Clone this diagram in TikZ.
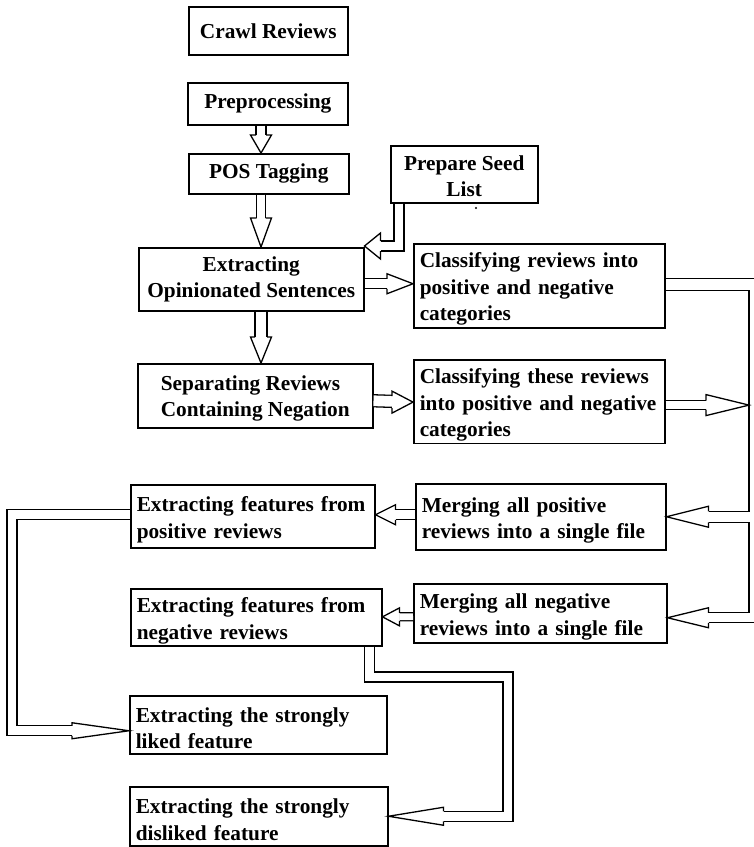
\documentclass[tikz,border=0pt]{standalone}
\usepackage{fontspec}
\setmainfont{Liberation Serif}
\usetikzlibrary{calc}

% hollow block-arrow head: tip, direction (deg), length, half width, half shaft gap
\newcommand\ahead[5]{%
  \begin{scope}[shift={#1}, rotate=#2]
    \fill[white] (0,0) -- (-#3,#4) -- (-#3,-#4) -- cycle;
    \draw[conn] (-#3,#5) -- (-#3,#4) -- (0,0) -- (-#3,-#4) -- (-#3,-#5);
  \end{scope}}

\begin{document}
\begin{tikzpicture}[x=1pt, y=-1pt,
  conn/.style={draw=black, line width=1.3pt, line join=miter},
  dbl/.style={draw=black, line width=1.3pt, double=white, double distance=#1, line join=miter},
  box/.style={draw=black, line width=1.5pt, anchor=north west, inner xsep=6pt, inner ysep=2pt,
    font=\bfseries\fontsize{21.3}{26.5}\selectfont},
  cbox/.style 2 args={box, align=center, minimum width=#1, minimum height=#2},
  lbox/.style 2 args={box, align=left, text width=#1, minimum height=#2,
    execute at begin node={\rule{0pt}{22pt}}}
]
\useasboundingbox (0,0) rectangle (754,847);

% ---- process boxes ----
\node[cbox={159}{48}] (crawl) at (188,6)   {Crawl Reviews};
\node[cbox={160}{42}] (pre)   at (187,82)  {Preprocessing};
\node[cbox={160}{40}] (pos)   at (188,153) {POS Tagging};
\node[cbox={147}{57}] (seed)  at (390,145) {\rule{0pt}{19pt}Prepare Seed\\List};
\node[cbox={225}{63}] (eos)   at (138,247) {Extracting\\Opinionated Sentences};
\node[lbox={239}{84}] (cr)    at (413,243) {Classifying reviews into\\positive and negative\\categories};
\node[box, align=left, minimum width=235, minimum height=64] (sep) at (137,363)
  {\rule{0pt}{20pt}Separating Reviews\\Containing Negation};
\node[lbox={239}{81}] (ct)    at (413,359) {Classifying these reviews\\into positive and negative\\categories};
\node[lbox={232}{63}] (efp)   at (130,484) {Extracting features from\\positive reviews};
\node[lbox={238}{66}] (mp)    at (415,483) {Merging all positive\\reviews into a single file};
\node[lbox={239}{57}] (efn)   at (130,588) {Extracting features from\\negative reviews};
\node[lbox={241}{59}] (mn)    at (413,583) {Merging all negative\\reviews into a single file};
\node[lbox={245}{58}] (sl)    at (129,695) {Extracting the strongly\\liked feature};
\node[lbox={246}{59}] (sd)    at (129,786) {Extracting the strongly\\disliked feature};

\fill (476,208) circle (1.1);

% ---- guide coordinates ----
\coordinate (spine) at (261,0);
\coordinate (bus) at (749,0);
\coordinate (leftrail) at (12,600);
\coordinate (dogleg) at (508,677);

% ---- main column ----
\draw[dbl=8.7pt, shorten >=18] (pre.south -| spine) -- (pos.north -| spine);
\ahead{(pos.north -| spine)}{-90}{18}{10.5}{5}

\draw[dbl=7.7pt, shorten >=29] (pos.south -| spine) -- (eos.north -| spine);
\ahead{(eos.north -| spine)}{-90}{29}{10.5}{4.5}

\draw[dbl=10.7pt, shorten >=26] (eos.south -| spine) -- (sep.north -| spine);
\ahead{(sep.north -| spine)}{-90}{26}{10.5}{6}

% seed list into opinion extraction
\coordinate (seedtip) at ($(eos.north east)+(0,-1)$);
\draw[dbl=8.7pt, shorten >=16] ($(seed.south west)+(9,0)$) |- (seedtip);
\ahead{(seedtip)}{180}{16}{13}{5}

% classification steps
\coordinate (dtip) at ($(cr.west)+(0,-2)$);
\draw[dbl=8.7pt, shorten >=26] ($(eos.east)+(0,4.5)$) -- (dtip);
\ahead{(dtip)}{0}{26}{10}{5}

\coordinate (ftip) at ($(ct.west)+(0,0.5)$);
\draw[dbl=10.7pt, shorten >=21] ($(sep.east)+(0,5)$) -- (ftip);
\ahead{(ftip)}{0}{21}{11}{6}

\coordinate (g0) at ($(ct.east)+(0,3.5)$);
\draw[dbl=7.7pt, shorten >=43] (g0) -- (g0 -| bus);
\ahead{(g0 -| bus)}{0}{43}{10.5}{4.5}

% right-hand collecting line
\coordinate (mnt) at ($(mn.east)+(0,4.5)$);
\coordinate (mpu) at ($(mp.east)+(42,-5.5)$);
\coordinate (mpl) at ($(mp.east)+(42,5.5)$);
\coordinate (mnu) at ($(mnt)+(41,-5)$);
\coordinate (mnl) at ($(mnt)+(41,5)$);
\draw[conn] ($(cr.east)+(0,-7)$) -- ++(100,0);
\draw[conn] ($(cr.east)+(0,5)$) -| (mpu -| bus) -- (mpu);
\draw[conn] (mpl) -- (mpl -| bus) -- (mnu -| bus) -- (mnu);
\draw[conn] (mnl) -- ++(100,0);
\ahead{(mp.east)}{180}{42}{10.5}{5.5}
\ahead{(mnt)}{180}{41}{10}{5}

% merged files to feature extraction
\coordinate (jtip) at ($(efp.east)+(0,-1.5)$);
\draw[dbl=8.7pt, shorten >=20] ($(mp.west)+(0,-2)$) -- (jtip);
\ahead{(jtip)}{180}{20}{10}{5}

\coordinate (ktip) at ($(efn.east)+(0,-0.5)$);
\draw[dbl=6.7pt, shorten >=17] ($(mn.west)+(0,3.5)$) -- (ktip);
\ahead{(ktip)}{180}{17}{9}{4}

% feature extraction to strongly liked / disliked
\coordinate (ltip) at ($(sl.west)+(0,6)$);
\draw[dbl=8.7pt, shorten >=57] ($(efp.west)+(0,-2)$) -| (leftrail) |- (ltip);
\ahead{(ltip)}{0}{57}{8}{5}

\draw[dbl=8.7pt, shorten >=55] ($(efn.south east)+(-13,0)$) |- (dogleg) |- (sd.east);
\ahead{(sd.east)}{180}{55}{9}{5}
\end{tikzpicture}
\end{document}
